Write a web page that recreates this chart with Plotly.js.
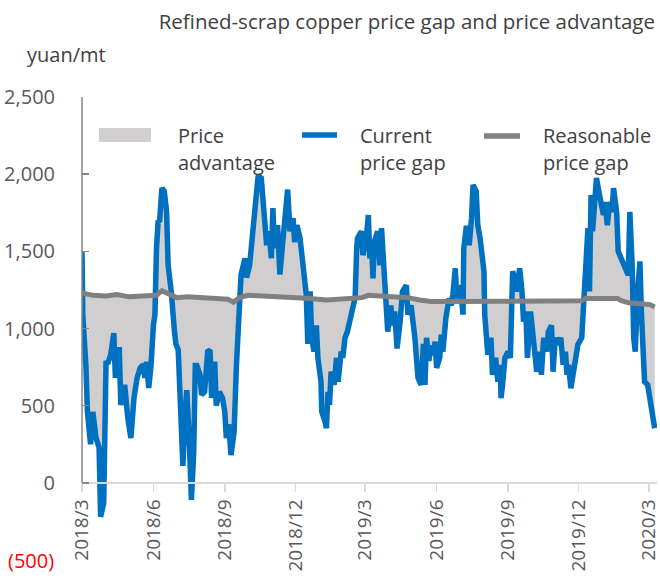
<!DOCTYPE html>
<html>
<head>
<meta charset="utf-8">
<script src="https://cdn.plot.ly/plotly-3.0.1.min.js"></script>
<style>html,body{margin:0;padding:0;background:#fff;}#chart{width:660px;height:582px;}</style>
</head>
<body>
<div id="chart"></div>
<script>
const currentDates = [
"2018-03-01","2018-03-02","2018-03-06","2018-03-08","2018-03-12","2018-03-15","2018-03-19","2018-03-23","2018-03-25","2018-03-29",
"2018-04-01","2018-04-03","2018-04-07","2018-04-11","2018-04-13","2018-04-18","2018-04-20","2018-04-25","2018-04-29",
"2018-05-03","2018-05-07","2018-05-11","2018-05-15","2018-05-19","2018-05-21","2018-05-23","2018-05-26","2018-05-29",
"2018-06-01","2018-06-03","2018-06-05","2018-06-07","2018-06-09","2018-06-12","2018-06-15","2018-06-18","2018-06-20","2018-06-24","2018-06-28","2018-06-30",
"2018-07-03","2018-07-05","2018-07-09","2018-07-12","2018-07-14","2018-07-17","2018-07-20","2018-07-23","2018-07-25","2018-07-27","2018-07-31",
"2018-08-02","2018-08-06","2018-08-10","2018-08-13","2018-08-15","2018-08-17","2018-08-19","2018-08-21","2018-08-25","2018-08-29",
"2018-09-01","2018-09-03","2018-09-06","2018-09-09","2018-09-13","2018-09-16","2018-09-18","2018-09-20","2018-09-22","2018-09-27","2018-09-29",
"2018-10-03","2018-10-06","2018-10-10","2018-10-14","2018-10-18","2018-10-21","2018-10-25","2018-10-28","2018-10-31",
"2018-11-02","2018-11-04","2018-11-08","2018-11-11","2018-11-14","2018-11-17","2018-11-21","2018-11-24","2018-11-28","2018-11-30",
"2018-12-03","2018-12-07","2018-12-10","2018-12-15","2018-12-17","2018-12-20","2018-12-22","2018-12-25","2018-12-28","2018-12-30",
"2019-01-03","2019-01-04","2019-01-08","2019-01-10","2019-01-12","2019-01-14","2019-01-16","2019-01-20","2019-01-23","2019-01-25","2019-01-29","2019-01-31",
"2019-02-03","2019-02-06","2019-02-11","2019-02-16","2019-02-18","2019-02-19","2019-02-24","2019-02-26",
"2019-03-02","2019-03-05","2019-03-07","2019-03-09","2019-03-11","2019-03-13","2019-03-17","2019-03-20","2019-03-22","2019-03-26","2019-03-28","2019-03-30",
"2019-04-03","2019-04-05","2019-04-08","2019-04-11","2019-04-15","2019-04-18","2019-04-23","2019-04-25","2019-04-29",
"2019-05-04","2019-05-08","2019-05-12","2019-05-15","2019-05-17","2019-05-19","2019-05-22","2019-05-25","2019-05-28","2019-05-30",
"2019-06-01","2019-06-05","2019-06-07","2019-06-09","2019-06-11","2019-06-13","2019-06-17","2019-06-20","2019-06-22","2019-06-25","2019-06-27","2019-06-30",
"2019-07-03","2019-07-05","2019-07-06","2019-07-09","2019-07-11","2019-07-13","2019-07-16","2019-07-18","2019-07-22","2019-07-24","2019-07-27","2019-07-30",
"2019-08-01","2019-08-02","2019-08-04","2019-08-06","2019-08-10","2019-08-12","2019-08-16","2019-08-19","2019-08-22","2019-08-23","2019-08-25","2019-08-28",
"2019-09-01","2019-09-04","2019-09-07","2019-09-10","2019-09-13","2019-09-16","2019-09-19","2019-09-21","2019-09-24","2019-09-26","2019-09-30",
"2019-10-03","2019-10-08","2019-10-12","2019-10-14","2019-10-17","2019-10-21","2019-10-23","2019-10-27","2019-10-29",
"2019-11-01","2019-11-04","2019-11-08","2019-11-11","2019-11-14","2019-11-16","2019-11-18","2019-11-21","2019-11-24","2019-11-27","2019-11-30",
"2019-12-05","2019-12-08","2019-12-10","2019-12-13","2019-12-15","2019-12-17","2019-12-19","2019-12-21","2019-12-24","2019-12-27","2019-12-30",
"2020-01-02","2020-01-04","2020-01-07","2020-01-10","2020-01-13","2020-01-15","2020-01-19","2020-01-21","2020-01-25","2020-01-30",
"2020-02-03","2020-02-05","2020-02-08","2020-02-10","2020-02-12","2020-02-15","2020-02-18","2020-02-20","2020-02-22","2020-02-24","2020-02-28",
"2020-03-02","2020-03-04","2020-03-08"
];
const currentGap = [
1500,1090,760,460,250,460,290,230,-220,-130,
790,770,830,970,680,880,505,635,420,
290,550,680,745,765,680,785,615,765,
1020,1090,1520,1690,1700,1910,1890,1760,1410,1240,990,900,
860,540,110,470,600,300,-110,200,760,760,700,
570,590,850,860,550,730,786,500,590,550,
460,290,380,180,330,760,1020,1200,1350,1455,1330,
1410,1585,1800,1990,1975,1760,1540,1630,1455,
1780,1520,1670,1350,1520,1690,1900,1630,1715,1560,
1670,1585,1410,1220,900,1240,940,850,1020,810,
655,460,400,355,590,505,720,635,810,655,850,810,
940,980,1090,1200,1520,1585,1630,1475,
1565,1735,1455,1565,1325,1565,1630,1410,1650,1280,1240,980,
1150,1020,1110,870,1045,1240,1280,1090,1150,
940,680,635,900,635,940,790,890,830,915,
745,810,960,850,1020,1070,1195,1150,1220,1390,1195,1280,
1195,1090,1520,1650,1650,1540,1715,1930,1890,1670,1585,1410,
1370,1090,980,830,940,700,810,655,765,548,635,810,
850,810,1370,1325,1240,1390,1240,1045,1110,810,1110,
980,720,850,700,940,850,980,1020,720,
940,895,940,765,850,700,765,613,720,810,895,
940,1195,1410,1650,1240,1865,1630,1735,1975,1890,1800,
1735,1820,1670,1820,1755,1910,1755,1500,1455,1410,
1345,1755,1410,940,850,1240,1435,1090,870,655,635,
548,505,354
];
const reasonableDates = [
"2018-03-01","2018-03-15","2018-04-01","2018-04-15","2018-05-01","2018-05-20","2018-06-05","2018-06-12","2018-06-20",
"2018-07-01","2018-07-15","2018-08-01","2018-08-20","2018-09-05","2018-09-12","2018-09-20","2018-10-01","2018-10-20",
"2018-11-10","2018-12-01","2018-12-20","2019-01-10","2019-02-10","2019-02-25","2019-03-05","2019-03-20","2019-04-05",
"2019-04-25","2019-05-10","2019-05-25","2019-06-15","2019-07-15","2019-08-15","2019-09-15","2019-10-15","2019-11-15",
"2019-12-05","2019-12-10","2020-01-01","2020-01-20","2020-01-25","2020-02-05","2020-02-20","2020-03-02","2020-03-08"
];
const reasonableGap = [
1230,1215,1210,1220,1205,1210,1215,1245,1225,
1200,1205,1200,1195,1190,1170,1200,1215,1210,
1210,1205,1195,1185,1190,1200,1215,1210,1205,
1200,1185,1175,1175,1175,1175,1175,1175,1175,
1180,1195,1195,1195,1180,1165,1160,1155,1140
];
const yTickValues = [0, 500, 1000, 1500, 2000, 2500];
const titleText = "Refined-scrap copper price gap and price advantage";
const unitText = "yuan/mt";
const negLabel = "(500)";
const legendNames = [["Price", "advantage"], ["Current", "price gap"], ["Reasonable", "price gap"]];

const FONT = "Open Sans, Noto Sans, sans-serif";
const BLUE = "#0070C0", GRAY = "#808080", FILL = "#D0CECE";
const L = 82, T = 97, R = 3, B = 22, W = 660, H = 582;
const pw = W - L - R, ph = H - T - B;
const px = x => (x - L) / pw;
const py = y => (H - B - y) / ph;

const traces = [
  {x: reasonableDates, y: reasonableGap, type: "scatter", mode: "lines",
   line: {width: 0, color: GRAY}, hoverinfo: "skip", showlegend: false},
  {x: currentDates, y: currentGap, type: "scatter", mode: "lines",
   fill: "tonexty", fillcolor: FILL,
   line: {width: 5.5, color: BLUE}, name: "Current price gap", showlegend: false},
  {x: reasonableDates, y: reasonableGap, type: "scatter", mode: "lines",
   line: {width: 5, color: GRAY}, name: "Reasonable price gap", showlegend: false}
];

const txt = (text, x, y, anchor, color, size) => ({
  text: text, xref: "paper", yref: "paper", x: x, y: y, xanchor: anchor || "left", yanchor: "middle",
  showarrow: false, font: {family: FONT, size: size || 20, color: color || "#404040"}
});

const annotations = [
  txt(unitText, px(25), py(55), "left", "#404040", 20),
  {text: negLabel, xref: "paper", yref: "y", x: px(56), y: -500, xanchor: "right", yanchor: "middle",
   showarrow: false, font: {family: FONT, size: 20, color: "#FF0000"}},
  txt(legendNames[0][0], px(176), py(135)), txt(legendNames[0][1], px(176), py(162)),
  txt(legendNames[1][0], px(358), py(135)), txt(legendNames[1][1], px(358), py(162)),
  txt(legendNames[2][0], px(541), py(135)), txt(legendNames[2][1], px(541), py(162))
];

const shapes = [
  {type: "line", xref: "paper", yref: "y", x0: 0, x1: 0, y0: 0, y1: 2500,
   line: {color: "#868686", width: 1.5}, layer: "above"},
  {type: "rect", xref: "paper", yref: "paper", x0: px(99), x1: px(151), y0: py(142), y1: py(128),
   fillcolor: FILL, line: {width: 0}},
  {type: "line", xref: "paper", yref: "paper", x0: px(302), x1: px(337), y0: py(135), y1: py(135),
   line: {color: BLUE, width: 5.5}},
  {type: "line", xref: "paper", yref: "paper", x0: px(484), x1: px(520), y0: py(136), y1: py(136),
   line: {color: GRAY, width: 5.5}}
];

const layout = {
  width: W, height: H,
  margin: {l: L, r: R, t: T, b: B, pad: 0},
  paper_bgcolor: "#ffffff", plot_bgcolor: "#ffffff",
  showlegend: false,
  hovermode: false,
  title: {text: titleText, xref: "container", yref: "container", x: 655 / W, xanchor: "right",
          y: 1 - 22 / H, yanchor: "middle", font: {family: FONT, size: 20.5, color: "#404040"}},
  xaxis: {
    type: "date", range: ["2018-03-01", "2020-03-11"],
    anchor: "free", position: 500 / 3000,
    tick0: "2018-03-01", dtick: "M3", tickformat: "%Y/%-m",
    tickangle: -90, ticks: "outside", ticklen: 8, tickcolor: "#D9D9D9", tickwidth: 1.5,
    ticklabeloverflow: "allow",
    showline: true, linecolor: "#D9D9D9", linewidth: 2,
    showgrid: false, zeroline: false,
    tickfont: {family: FONT, size: 19, color: "#595959"}
  },
  yaxis: {
    range: [-500, 2500], tickvals: yTickValues, tickformat: ",",
    ticks: "inside", ticklen: 7, tickcolor: "#868686", tickwidth: 1.5,
    ticklabelstandoff: 26,
    showline: false, showgrid: false, zeroline: false,
    tickfont: {family: FONT, size: 20, color: "#595959"}
  },
  annotations: annotations,
  shapes: shapes
};

Plotly.newPlot("chart", traces, layout, {staticPlot: true, displayModeBar: false});
</script>
</body>
</html>
